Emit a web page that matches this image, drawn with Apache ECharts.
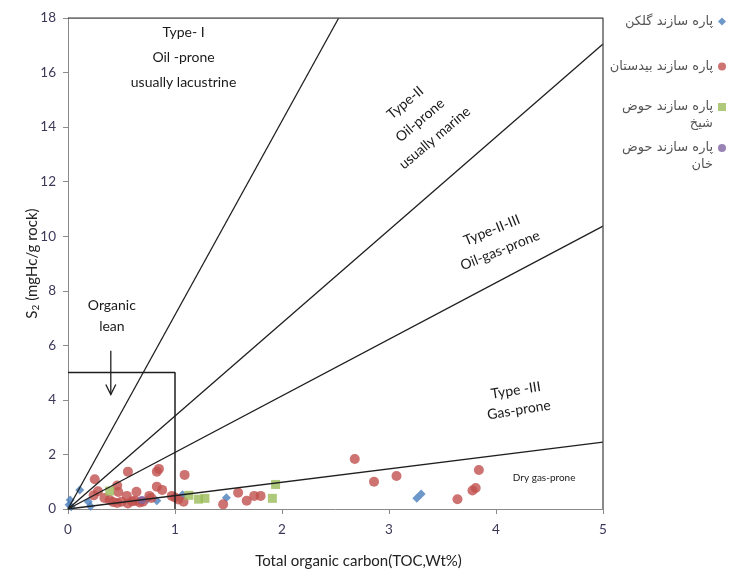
<!DOCTYPE html>
<html>
<head>
<meta charset="utf-8">
<script src="https://cdn.jsdelivr.net/npm/echarts@6/dist/echarts.min.js"></script>
<style>
  html, body { margin: 0; padding: 0; background: #fff; }
  #chart { width: 746px; height: 573px; }
</style>
</head>
<body>
<div id="chart"></div>
<script>
// Axis ranges / ticks
const xTicks = [0, 1, 2, 3, 4, 5];
const yTicks = [0, 2, 4, 6, 8, 10, 12, 14, 16, 18];

// Series names (formation parts)
const seriesNames = [
  'پاره سازند گلکن',
  'پاره سازند بیدستان',
  'پاره سازند حوض شیخ',
  'پاره سازند حوض خان'
];

// TOC (wt%), S2 (mgHC/g rock) samples
const golkan = [
  [0.02, 0.33], [0.01, 0.16], [0.03, 0.08], [0.11, 0.70], [0.19, 0.27],
  [0.21, 0.10], [0.74, 0.35], [0.83, 0.30], [1.07, 0.52], [1.48, 0.41],
  [3.26, 0.39], [3.30, 0.55]
];
const bidestan = [
  [0.25, 1.09], [0.28, 0.65], [0.24, 0.50], [0.34, 0.40], [0.56, 1.37],
  [0.46, 0.86], [0.47, 0.62], [0.39, 0.33], [0.42, 0.26], [0.46, 0.22],
  [0.50, 0.27], [0.55, 0.48], [0.56, 0.20], [0.60, 0.28], [0.64, 0.63],
  [0.63, 0.30], [0.67, 0.24], [0.70, 0.27], [0.76, 0.48], [0.78, 0.40],
  [0.83, 1.37], [0.85, 1.47], [0.83, 0.82], [0.88, 0.70], [0.97, 0.48],
  [1.00, 0.42], [1.09, 1.25], [1.08, 0.27], [1.03, 0.35], [1.45, 0.17],
  [1.59, 0.60], [1.67, 0.30], [1.74, 0.48], [1.80, 0.48], [2.68, 1.83],
  [2.86, 1.00], [3.07, 1.21], [3.64, 0.36], [3.78, 0.68], [3.81, 0.77],
  [3.84, 1.43]
];
const hozShaikh = [
  [0.39, 0.66], [1.13, 0.50], [1.22, 0.36], [1.28, 0.39], [1.94, 0.90],
  [1.91, 0.39]
];
const hozKhan = [
  [0.69, 0.33]
];

// Kerogen-type boundary lines from the origin
const typeIBoundary = [[0, 0], [2.53, 18]];
const typeIIBoundary = [[0, 0], [5, 17.05]];
const typeIIIIIBoundary = [[0, 0], [5, 10.37]];
const typeIIIBoundary = [[0, 0], [5, 2.45]];
// Plot frame (top and right edges)
const frameEdges = [[0, 18], [5, 18], [5, 0]];
// Organic-lean field and its pointer
const organicLeanBox = [[0, 5], [1, 5], [1, 0]];
const organicLeanArrow = [[0.4, 5.8, 0.4, 4.2]];

// Field labels
const fieldTexts = [
  'Type- I\nOil -prone\nusually lacustrine',
  'Type-II\nOil-prone\nusually marine',
  'Type-II-III\nOil-gas-prone',
  'Type -III\nGas-prone',
  'Dry gas-prone',
  'Organic\nlean'
];

// Placement of the field labels: [x, y, angle, fontSize, lineHeight]
const fieldLayout = [
  [1.08, 16.56, 0, 14, 25],
  [3.29, 14.25, 40, 14, 23],
  [4.00, 9.85, 22, 14, 22],
  [4.20, 3.99, 9, 14, 20],
  [4.45, 1.14, 0, 10, 12],
  [0.41, 7.07, 0, 14, 21]
];

const lineStyleDark = { color: '#1f1f1f', width: 1.3 };
const FONT = 'Lato, "Open Sans", sans-serif';

function boundary(data, style) {
  return {
    type: 'line',
    data: data,
    symbol: 'none',
    silent: true,
    z: 4,
    lineStyle: style || lineStyleDark,
    animation: false
  };
}

const chart = echarts.init(document.getElementById('chart'), null, { renderer: 'canvas' });

const legendTops = [13, 58, 81.5, 122.5];
const legendIcons = ['diamond', 'circle', 'rect', 'circle'];
const legendText = {};
legendText[seriesNames[0]] = seriesNames[0];
legendText[seriesNames[1]] = seriesNames[1];
legendText[seriesNames[2]] = '\nپاره سازند حوض\nشیخ';
legendText[seriesNames[3]] = '\nپاره سازند حوض\nخان';

const option = {
  backgroundColor: '#ffffff',
  animation: false,
  grid: { left: 68, right: 143, top: 18, bottom: 64, outerBoundsMode: 'none', containLabel: false },
  legend: seriesNames.map((n, i) => ({
    data: [{ name: n, icon: legendIcons[i] }],
    right: 20,
    top: legendTops[i],
    padding: 0,
    align: 'right',
    itemWidth: 8,
    itemHeight: 8,
    itemGap: 4,
    selectedMode: false,
    formatter: (name) => legendText[name],
    textStyle: {
      fontFamily: '"DejaVu Sans", sans-serif',
      fontSize: 13,
      color: '#555',
      lineHeight: 17
    }
  })),
  xAxis: {
    type: 'value',
    min: xTicks[0],
    max: xTicks[xTicks.length - 1],
    interval: xTicks[1] - xTicks[0],
    name: 'Total organic carbon(TOC,Wt%)',
    nameLocation: 'middle',
    nameGap: 45,
    nameMoveOverlap: false,
    nameTextStyle: { fontFamily: FONT, fontSize: 15, color: '#222', padding: [0, 0, 0, 46] },
    axisLine: { show: true, onZero: false, lineStyle: { color: '#8a8a8a', width: 1 } },
    axisTick: { show: true, inside: false, length: 5, lineStyle: { color: '#8a8a8a' } },
    axisLabel: { margin: 14, fontFamily: FONT, fontSize: 13.5, color: '#3e3858' },
    splitLine: { show: false }
  },
  yAxis: {
    type: 'value',
    min: yTicks[0],
    max: yTicks[yTicks.length - 1],
    interval: yTicks[1] - yTicks[0],
    name: '{s|S}{sub|2}{s| (mgHc/g rock)}',
    nameLocation: 'middle',
    nameGap: 27,
    nameMoveOverlap: false,
    nameTextStyle: {
      rich: {
        s: { fontFamily: FONT, fontSize: 15, color: '#222' },
        sub: { fontFamily: FONT, fontSize: 10, color: '#222', verticalAlign: 'bottom', padding: [8, 0, 0, 0] }
      }
    },
    axisLine: { show: true, onZero: false, lineStyle: { color: '#8a8a8a', width: 1 } },
    axisTick: { show: true, inside: false, length: 5, lineStyle: { color: '#8a8a8a' } },
    axisLabel: { margin: 12, fontFamily: FONT, fontSize: 13.5, color: '#3e3858' },
    splitLine: { show: false }
  },
  series: [
    {
      name: seriesNames[0], type: 'scatter', data: golkan,
      symbol: 'diamond', symbolSize: 9, z: 2,
      itemStyle: { color: '#4a7ebb' }
    },
    {
      name: seriesNames[1], type: 'scatter', data: bidestan,
      symbol: 'circle', symbolSize: 10, z: 2,
      itemStyle: { color: '#c0504d' }
    },
    {
      name: seriesNames[2], type: 'scatter', data: hozShaikh,
      symbol: 'rect', symbolSize: 9, z: 2,
      itemStyle: { color: '#9bbb59' }
    },
    {
      name: seriesNames[3], type: 'scatter', data: hozKhan,
      symbol: 'circle', symbolSize: 8, z: 2,
      itemStyle: { color: '#8064a2' }
    },
    boundary(typeIBoundary),
    boundary(typeIIBoundary),
    boundary(typeIIIIIBoundary),
    boundary(typeIIIBoundary),
    boundary(frameEdges, { color: '#4a4a4a', width: 1.3 }),
    boundary(organicLeanBox, { color: '#1f1f1f', width: 1.5 }),
    {
      // downward arrow pointing into the organic-lean field
      type: 'custom',
      silent: true,
      z: 4,
      data: organicLeanArrow,
      renderItem: function (params, api) {
        const a = api.coord([api.value(0), api.value(1)]);
        const b = api.coord([api.value(2), api.value(3)]);
        return {
          type: 'group',
          children: [
            { type: 'line', shape: { x1: a[0], y1: a[1], x2: b[0], y2: b[1] },
              style: { stroke: '#1f1f1f', lineWidth: 1.3 } },
            { type: 'polyline', shape: { points: [[b[0] - 5, b[1] - 10], [b[0], b[1]], [b[0] + 5, b[1] - 10]] },
              style: { stroke: '#1f1f1f', lineWidth: 1.3, fill: null } }
          ]
        };
      }
    },
    {
      // kerogen field labels
      type: 'custom',
      silent: true,
      z: 5,
      data: fieldLayout.map((p, i) => [p[0], p[1], i]),
      renderItem: function (params, api) {
        const idx = api.value(2);
        const lay = fieldLayout[idx];
        const pt = api.coord([api.value(0), api.value(1)]);
        return {
          type: 'text',
          x: pt[0],
          y: pt[1],
          rotation: lay[2] * Math.PI / 180,
          style: {
            text: fieldTexts[idx],
            fontFamily: FONT,
            fontSize: lay[3],
            lineHeight: lay[4],
            fill: '#1a1a1a',
            align: 'center',
            verticalAlign: 'middle'
          }
        };
      }
    }
  ]
};

chart.setOption(option);
</script>
</body>
</html>
